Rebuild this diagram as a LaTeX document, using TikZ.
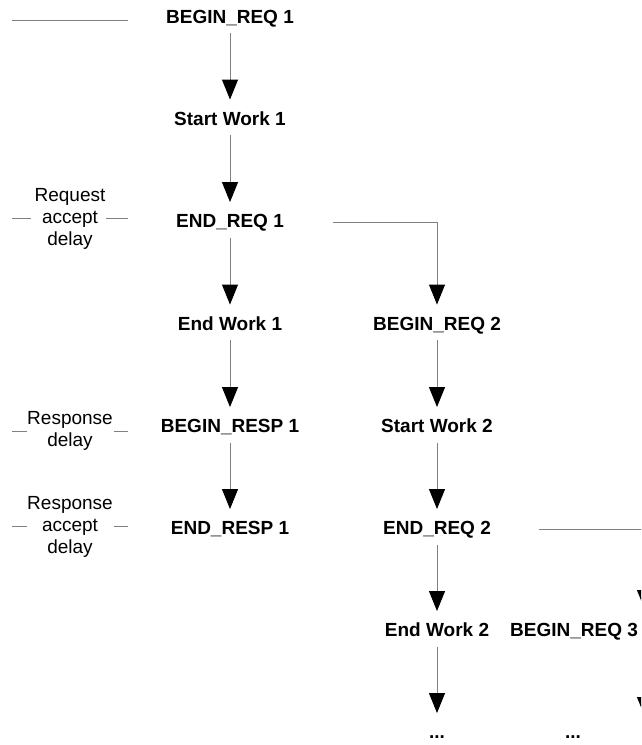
\documentclass[tikz,border=0pt]{standalone}
\usepackage{fontspec}
\setmainfont{Liberation Sans}
\usetikzlibrary{arrows.meta}
\definecolor{lgray}{RGB}{128,128,128}
\begin{document}
\begin{tikzpicture}[x=1pt,y=-1pt,
  evt/.style={font=\fontsize{19}{23}\selectfont\bfseries, text height=13.5pt, text depth=0pt, inner xsep=2pt, inner ysep=10pt},
  lbl/.style={font=\fontsize{19}{22}\selectfont, align=center, inner sep=0pt},
  conn/.style={draw=lgray, line width=1pt},
  arr/.style={conn, -{Triangle[width=16pt,length=20pt,black]}, shorten >=2pt}]
\useasboundingbox (0,0) rectangle (641,745);
\clip (0,0) rectangle (641,745);
% column 1
\node[evt] (br1) at (230,16.5) {BEGIN\_REQ 1};
\node[evt] (sw1) at (230,118.5) {Start Work 1};
\node[evt] (er1) at (230,221) {END\_REQ 1};
\node[evt] (ew1) at (230,323.5) {End Work 1};
\node[evt] (bp1) at (230,426) {BEGIN\_RESP 1};
\node[evt] (ep1) at (230,528) {END\_RESP 1};
% column 2
\node[evt] (br2) at (437,323.5) {BEGIN\_REQ 2};
\node[evt] (sw2) at (437,426) {Start Work 2};
\node[evt] (er2) at (437,528) {END\_REQ 2};
\node[evt] (ew2) at (437,630) {End Work 2};
\node[evt] (dd2) at (437,732) {...};
% column 3
\node[evt] (br3) at (574,630) {BEGIN\_REQ 3};
\node[evt] (dd3) at (573,732) {...};
% left labels
\node[lbl] (l1) at (70,219) {Request\\accept\\delay};
\node[lbl] (l2) at (70,431) {Response\\delay};
\node[lbl] (l3) at (70,527) {Response\\accept\\delay};
% vertical arrows
\draw[arr] (br1) -- (sw1);
\draw[arr] (sw1) -- (er1);
\draw[arr] (er1) -- (ew1);
\draw[arr] (ew1) -- (bp1);
\draw[arr] (bp1) -- (ep1);
\draw[arr] (br2) -- (sw2);
\draw[arr] (sw2) -- (er2);
\draw[arr] (er2) -- (ew2);
\draw[arr] (ew2) -- (dd2);
% elbow connectors
\coordinate (e1) at (333,222);
\draw[arr] (e1) -| (br2);
\coordinate (e2) at (539,529);
\coordinate (c3a) at (645,612);
\draw[arr] (e2) -| (c3a);
\coordinate (c3b) at (645,648);
\coordinate (c3c) at (645,719);
\draw[arr] (c3b) -- (c3c);
% left marker lines
\coordinate (t1a) at (12,20); \coordinate (t1b) at (128,20);
\draw[conn] (t1a) -- (t1b);
\coordinate (d1a) at (12,218); \coordinate (d1b) at (31,218);
\coordinate (d1c) at (106,218); \coordinate (d1d) at (128,218);
\draw[conn] (d1a) -- (d1b);
\draw[conn] (d1c) -- (d1d);
\coordinate (d2a) at (12,431); \coordinate (d2b) at (27,431);
\coordinate (d2c) at (114,431); \coordinate (d2d) at (128,431);
\draw[conn] (d2a) -- (d2b);
\draw[conn] (d2c) -- (d2d);
\coordinate (d3a) at (12,526); \coordinate (d3b) at (27,526);
\coordinate (d3c) at (114,526); \coordinate (d3d) at (128,526);
\draw[conn] (d3a) -- (d3b);
\draw[conn] (d3c) -- (d3d);
\end{tikzpicture}
\end{document}
